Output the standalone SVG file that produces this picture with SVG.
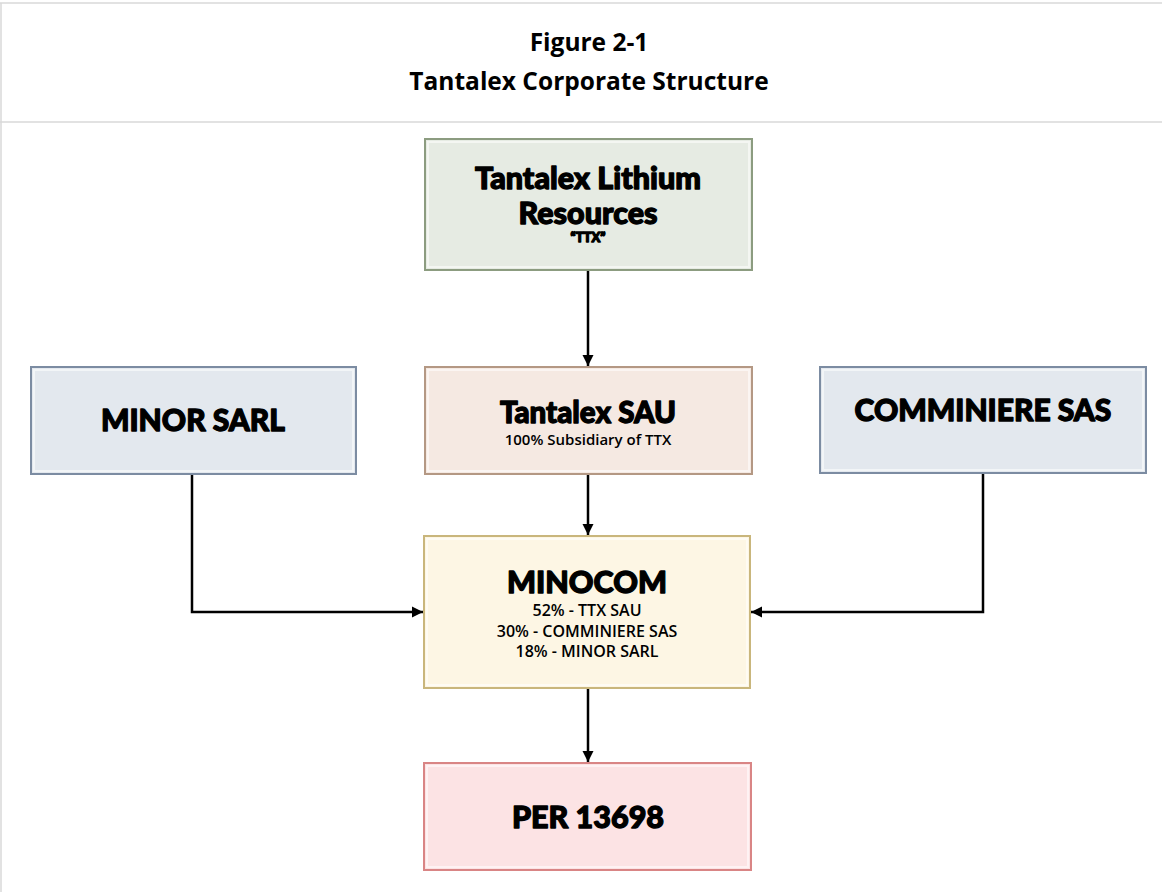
<svg xmlns="http://www.w3.org/2000/svg" width="1162" height="892" viewBox="0 0 1162 892">
<style>
.title{font-family:"Open Sans","Noto Sans",sans-serif;font-weight:700;fill:#000;text-anchor:middle}
.big{font-family:Lato,"Noto Sans",sans-serif;font-weight:900;fill:#000;stroke:#000;stroke-width:1.3;stroke-linejoin:round;text-anchor:middle}
.small{font-family:"Open Sans","Noto Sans",sans-serif;font-weight:600;fill:#000;text-anchor:middle}
.conn{fill:none;stroke:#000;stroke-width:2.5}
.inner{fill:none;stroke:#ffffff;stroke-opacity:0.55;stroke-width:2}
</style>
<defs>
<marker id="arr" viewBox="0 0 10 10" refX="10" refY="5" markerWidth="4.5" markerHeight="4.5" orient="auto" markerUnits="strokeWidth">
<path d="M0,0 L10,5 L0,10 z" fill="#000"/>
</marker>
</defs>
<rect x="0" y="0" width="1162" height="892" fill="#fff"/>
<g id="frame">
<line x1="0" y1="3" x2="1162" y2="3" stroke="#d9d9d9" stroke-width="1.5"/>
<line x1="1" y1="3" x2="1" y2="892" stroke="#d9d9d9" stroke-width="1.5"/>
<line x1="0" y1="122" x2="1162" y2="122" stroke="#d9d9d9" stroke-width="1.5"/>
</g>
<g id="header">
<text class="title" x="589" y="51" font-size="24.5">Figure 2-1</text>
<text class="title" x="589" y="90" font-size="24.5">Tantalex Corporate Structure</text>
</g>
<g id="connectors">
<line class="conn" x1="588" y1="270" x2="588" y2="366" marker-end="url(#arr)"/>
<line class="conn" x1="588" y1="474" x2="588" y2="535" marker-end="url(#arr)"/>
<polyline class="conn" points="192,474 192,612 423,612" marker-end="url(#arr)"/>
<polyline class="conn" points="983,473 983,612 751,612" marker-end="url(#arr)"/>
<line class="conn" x1="588" y1="688" x2="588" y2="762" marker-end="url(#arr)"/>
</g>
<g id="ttx">
<rect x="425" y="139" width="327" height="131" fill="#e6ebe3" stroke="#8c9c80" stroke-width="2"/>
<rect class="inner" x="428" y="142" width="321" height="125"/>
<text class="big" x="588" y="189" font-size="30.5">Tantalex Lithium</text>
<text class="big" x="588" y="224" font-size="30.5">Resources</text>
<text class="big" x="588" y="242" font-size="13" stroke-width="0.5">“TTX”</text>
</g>
<g id="sau">
<rect x="425" y="367" width="327" height="107" fill="#f5e9e2" stroke="#b49884" stroke-width="2"/>
<rect class="inner" x="428" y="370" width="321" height="101"/>
<text class="big" x="588" y="423" font-size="29.5">Tantalex SAU</text>
<text class="small" x="588" y="445" font-size="15">100% Subsidiary of TTX</text>
</g>
<g id="minor">
<rect x="31" y="367" width="325" height="107" fill="#e3e8ee" stroke="#7c8ca2" stroke-width="2"/>
<rect class="inner" x="34" y="370" width="319" height="101"/>
<text class="big" x="193" y="431" font-size="30">MINOR SARL</text>
</g>
<g id="comminiere">
<rect x="820" y="367" width="326" height="106" fill="#e3e8ee" stroke="#7c8ca2" stroke-width="2"/>
<rect class="inner" x="823" y="370" width="320" height="100"/>
<text class="big" x="983" y="421" font-size="30">COMMINIERE SAS</text>
</g>
<g id="minocom">
<rect x="424" y="536" width="326" height="152" fill="#fdf6e4" stroke="#c9b67c" stroke-width="2"/>
<rect class="inner" x="427" y="539" width="320" height="146"/>
<text class="big" x="587" y="593" font-size="30.5">MINOCOM</text>
<text class="small" x="587" y="616" font-size="16" font-weight="700">52% - TTX SAU</text>
<text class="small" x="587" y="637" font-size="16" font-weight="700">30% - COMMINIERE SAS</text>
<text class="small" x="587" y="657" font-size="16" font-weight="700">18% - MINOR SARL</text>
</g>
<g id="per">
<rect x="424" y="763" width="327" height="107" fill="#fce3e4" stroke="#d98585" stroke-width="2"/>
<rect class="inner" x="427" y="766" width="321" height="101"/>
<text class="big" x="588" y="828" font-size="30.5">PER 13698</text>
</g>
</svg>
